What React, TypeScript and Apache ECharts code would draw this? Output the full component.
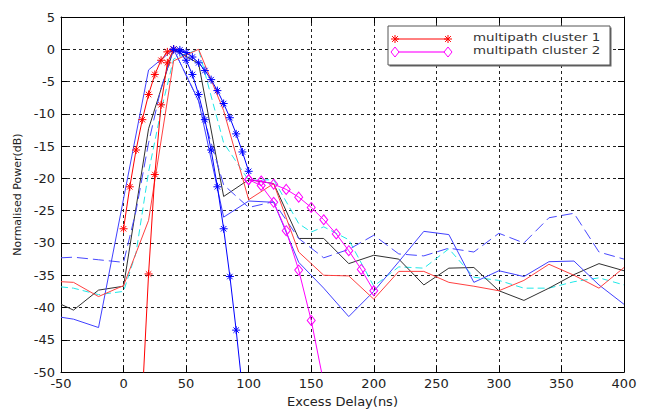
import React, { useEffect, useRef } from 'react';
import * as echarts from 'echarts';

// ---- model curves (markers) ----
const redStarAX = [0, 5, 10, 15, 20, 25, 30, 35, 40];
const redStarAY = [-27.8, -21.3, -15.6, -10.9, -7.0, -3.9, -1.7, -0.4, 0];

const redStarBX = [15, 20, 25, 30, 35, 40];
const redStarBY = [-54, -34.8, -19.4, -8.6, -2.1, 0];

const blueStarAX = [40, 45, 50, 55, 60, 65, 70, 75, 80, 85, 90, 95];
const blueStarAY = [0, -0.4, -1.7, -3.9, -7.0, -10.9, -15.6, -21.3, -27.8, -35.2, -43.5, -52.6];

const blueStarBX = [40, 45, 50, 55, 60, 65, 70, 75, 80, 85, 90, 95, 100];
const blueStarBY = [0, -0.1, -0.5, -1.2, -2.1, -3.3, -4.7, -6.4, -8.4, -10.6, -13.1, -15.9, -18.9];

const magAX = [100, 110, 120, 130, 140, 150, 160, 170, 180, 190, 200];
const magAY = [-20.2, -20.4, -20.9, -21.7, -22.9, -24.5, -26.4, -28.6, -31.2, -34.1, -37.4];

const magBX = [100, 110, 120, 130, 140, 150, 160];
const magBY = [-20.2, -21.1, -23.7, -28.1, -34.2, -42.0, -51.7];

// ---- measured profiles ----
const redX = [-50, -40, -20, 0, 20, 40, 60, 80, 100, 120, 140, 160, 180, 200, 220, 240, 260, 280, 300, 320, 340, 360, 380, 400];
const redY = [-36, -36.1, -38.3, -36.6, -26.5, -1.8, 0, -9.5, -23.3, -20.8, -31.4, -35, -35.1, -38.7, -34.4, -34.4, -36.1, -36.7, -37.4, -35.8, -33.3, -35, -37, -33.8];

const blackX = [-50, -40, -20, 0, 20, 40, 60, 80, 100, 120, 140, 160, 180, 200, 220, 240, 260, 280, 300, 320, 340, 360, 380, 400];
const blackY = [-39.5, -40.4, -37.3, -36.7, -12.3, 0, -2.2, -22.8, -20.2, -20.8, -29.3, -29.3, -33.2, -31.9, -32.5, -36.5, -33.9, -33.8, -37.4, -38.9, -37, -34.9, -33.2, -34.3];

const cyanX = [-50, -40, -20, 0, 10, 20, 30, 40, 60, 80, 100, 120, 140, 150, 160, 180, 200, 220, 240, 260, 280, 300, 320, 340, 360, 380, 400];
const cyanY = [-36.8, -37, -38, -37.5, -31.5, -19, -9.5, -1.5, 0, -14.5, -20.3, -20.2, -27, -28.3, -27.5, -29.5, -36.7, -33.7, -33.9, -30.9, -35.3, -35.8, -37, -37, -36, -35.4, -36.5];

const blueX = [-50, -40, -20, 20, 40, 60, 80, 100, 120, 140, 160, 180, 200, 220, 240, 260, 280, 300, 320, 340, 360, 380, 400];
const blueY = [-41.5, -41.8, -43.1, -3.2, 0, -8, -26, -23.5, -23.7, -33, -37, -41.4, -37.5, -32.9, -28.2, -28.7, -36.1, -34.3, -35.2, -32.9, -32.8, -36.5, -39.5];

const blueDashX = [-50, -40, -20, 0, 10, 20, 30, 40, 60, 80, 100, 120, 140, 160, 180, 200, 220, 240, 260, 280, 300, 320, 340, 360, 380, 400];
const blueDashY = [-32.3, -32.2, -32.6, -33, -25, -14.5, -6, 0, -8, -21, -24.5, -23.6, -29.3, -32.3, -31, -28.8, -31.7, -32, -30.8, -31.4, -28.5, -30, -26.1, -25.4, -31.4, -32.5];

const legendNames = ['multipath cluster 1', 'multipath cluster 2'];

const zip = (xs: number[], ys: number[]) => xs.map((x, i) => [x, ys[i]]);

const STAR = 'path://M5,0L5,10M0,5L10,5M1.6,1.6L8.4,8.4M1.6,8.4L8.4,1.6';
const FONT = '"DejaVu Sans", "Liberation Sans", sans-serif';

function starSeries(xs: number[], ys: number[], color: string) {
  return {
    type: 'line',
    data: zip(xs, ys),
    symbol: STAR,
    symbolSize: 8,
    showAllSymbol: true,
    lineStyle: { color, width: 1 },
    itemStyle: { color: 'rgba(0,0,0,0)', borderColor: color, borderWidth: 1 },
    z: 4,
  };
}

function diamondSeries(xs: number[], ys: number[], color: string) {
  return {
    type: 'line',
    data: zip(xs, ys),
    symbol: 'diamond',
    symbolSize: [8, 10],
    showAllSymbol: true,
    lineStyle: { color, width: 1 },
    itemStyle: { color: 'rgba(0,0,0,0)', borderColor: color, borderWidth: 1 },
    z: 4,
  };
}

function plainSeries(xs: number[], ys: number[], color: string, type: any = 'solid') {
  return {
    type: 'line',
    data: zip(xs, ys),
    symbol: 'none',
    lineStyle: { color, width: 1, type },
    z: 3,
  };
}

function starGraphic(cx: number, cy: number, color: string) {
  const r = 4;
  const d = 2.9;
  const segs = [
    [cx, cy - r, cx, cy + r],
    [cx - r, cy, cx + r, cy],
    [cx - d, cy - d, cx + d, cy + d],
    [cx - d, cy + d, cx + d, cy - d],
  ];
  return segs.map((s) => ({
    type: 'line',
    shape: { x1: s[0], y1: s[1], x2: s[2], y2: s[3] },
    style: { stroke: color, lineWidth: 1 },
    z: 101,
  }));
}

function diamondGraphic(cx: number, cy: number, color: string) {
  return {
    type: 'polygon',
    shape: { points: [[cx - 4, cy], [cx, cy - 5], [cx + 4, cy], [cx, cy + 5]] },
    style: { fill: '#fff', stroke: color, lineWidth: 1 },
    z: 101,
  };
}

export default function App() {
  const ref = useRef<HTMLDivElement>(null);
  useEffect(() => {
    if (!ref.current) return;
    const chart = echarts.init(ref.current, undefined, { renderer: 'svg' });
    const axisCommonLine = { show: true, onZero: false, lineStyle: { color: '#000', width: 1 } };
    const tick = { show: true, inside: true, length: 6, lineStyle: { color: '#000' } };
    const option: any = {
      animation: false,
      backgroundColor: '#fff',
      textStyle: { fontFamily: FONT },
      grid: { left: 61, right: 34, top: 17, bottom: 36, containLabel: false },
      xAxis: [
        {
          type: 'value',
          min: -50,
          max: 400,
          interval: 50,
          position: 'bottom',
          axisLine: axisCommonLine,
          axisTick: tick,
          axisLabel: { color: '#222', fontSize: 13, margin: 5, fontFamily: FONT },
          splitLine: { show: true, lineStyle: { color: '#222', type: [3, 3], width: 1 } },
          name: 'Excess Delay(ns)',
          nameLocation: 'middle',
          nameGap: 19,
          nameTextStyle: { color: '#222', fontSize: 13, fontFamily: FONT },
        },
        {
          type: 'value',
          min: -50,
          max: 400,
          interval: 50,
          position: 'top',
          axisLine: axisCommonLine,
          axisTick: tick,
          axisLabel: { show: false },
          splitLine: { show: false },
        },
      ],
      yAxis: [
        {
          type: 'value',
          min: -50,
          max: 5,
          interval: 5,
          position: 'left',
          axisLine: axisCommonLine,
          axisTick: tick,
          axisLabel: { color: '#222', fontSize: 13, margin: 6, fontFamily: FONT },
          splitLine: { show: true, lineStyle: { color: '#222', type: [3, 3], width: 1 } },
          name: 'Normalised Power(dB)',
          nameLocation: 'middle',
          nameGap: 36,
          nameTextStyle: { color: '#222', fontSize: 11, fontFamily: FONT },
        },
        {
          type: 'value',
          min: -50,
          max: 5,
          interval: 5,
          position: 'right',
          axisLine: axisCommonLine,
          axisTick: tick,
          axisLabel: { show: false },
          splitLine: { show: false },
        },
      ],
      series: [
        plainSeries(cyanX, cyanY, '#20e8e8', [7, 4]),
        plainSeries(blackX, blackY, '#303030'),
        plainSeries(blueDashX, blueDashY, '#4848ff', [11, 5]),
        plainSeries(blueX, blueY, '#4040ff'),
        plainSeries(redX, redY, '#ff4040'),
        starSeries(redStarAX, redStarAY, '#ff0000'),
        starSeries(redStarBX, redStarBY, '#ff0000'),
        starSeries(blueStarAX, blueStarAY, '#0000ff'),
        starSeries(blueStarBX, blueStarBY, '#0000ff'),
        diamondSeries(magAX, magAY, '#ff00ff'),
        diamondSeries(magBX, magBY, '#ff00ff'),
      ],
      graphic: [
        {
          type: 'rect',
          shape: { x: 389.5, y: 27.5, width: 222, height: 39 },
          style: { fill: '#666' },
          z: 100,
        },
        {
          type: 'rect',
          shape: { x: 388, y: 26, width: 222, height: 39 },
          style: { fill: '#fff', stroke: '#555', lineWidth: 1 },
          z: 100,
        },
        {
          type: 'line',
          shape: { x1: 395, y1: 39, x2: 448, y2: 39 },
          style: { stroke: '#ff0000', lineWidth: 1 },
          z: 101,
        },
        ...starGraphic(395, 39, '#ff0000'),
        ...starGraphic(448, 39, '#ff0000'),
        {
          type: 'line',
          shape: { x1: 395, y1: 52, x2: 448, y2: 52 },
          style: { stroke: '#ff40ff', lineWidth: 1.5 },
          z: 101,
        },
        diamondGraphic(395, 52, '#ff00ff'),
        diamondGraphic(448, 52, '#ff00ff'),
        {
          type: 'text',
          x: 473,
          y: 37.5,
          scaleX: 1.22,
          style: { text: legendNames[0], fill: '#333', fontSize: 11, fontFamily: FONT, verticalAlign: 'middle' },
          z: 101,
        },
        {
          type: 'text',
          x: 473,
          y: 50.5,
          scaleX: 1.22,
          style: { text: legendNames[1], fill: '#333', fontSize: 11, fontFamily: FONT, verticalAlign: 'middle' },
          z: 101,
        },
      ],
    };
    chart.setOption(option);
    return () => chart.dispose();
  }, []);
  return <div ref={ref} style={{ position: 'absolute', left: 0, top: 0, width: 658, height: 413 }} />;
}
